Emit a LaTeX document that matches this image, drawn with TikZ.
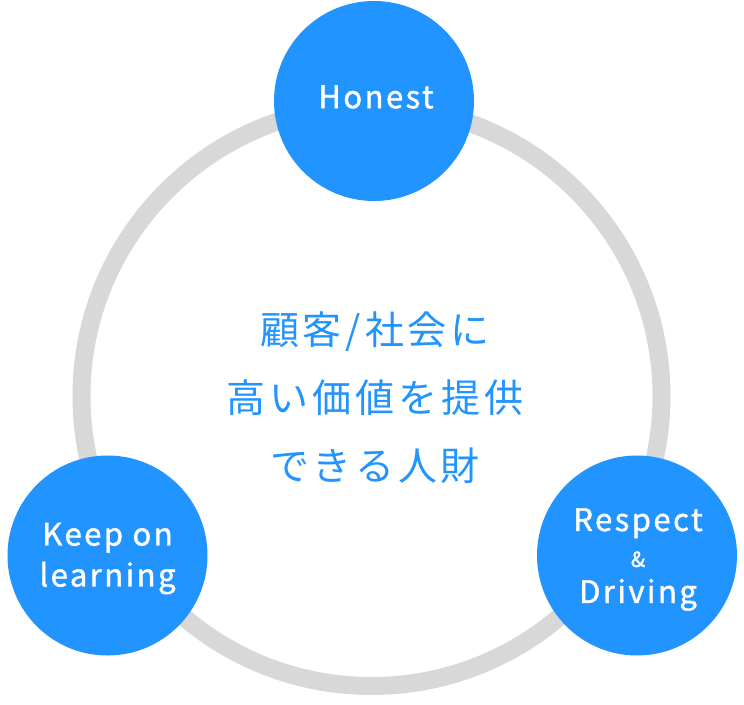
\documentclass[tikz,border=0pt]{standalone}
\usepackage{fontspec}
\setmainfont{Noto Sans CJK JP}
\usetikzlibrary{positioning}

\definecolor{valueblue}{RGB}{34,148,255}
\definecolor{ringgray}{RGB}{216,216,216}

\begin{document}
\begin{tikzpicture}[x=1pt,y=-1pt]

\tikzset{value/.style={circle, fill=valueblue, minimum size=200pt, inner sep=0pt},
  valuetext/.style={text=white, align=center, inner sep=0pt,
    font=\fontsize{31}{41}\selectfont\addfontfeature{LetterSpace=8,FakeBold=1.3}},
  core/.style={text=valueblue, align=center,
    font=\fontsize{39}{68}\selectfont\addfontfeature{LetterSpace=10}}}

\useasboundingbox (0,0) rectangle (744,704);

\node[circle, draw=ringgray, line width=18pt, minimum size=580pt] (ring) at (371.5,396) {};

\node[value] (honest) at (374,101) {};
\node[value] (learning) at (107.5,555.5) {};
\node[value] (respect) at (637,555.5) {};

\node[valuetext] (honesttext) at ([shift={(2,-4)}]honest.center) {Honest};
\node[valuetext] (learningtext) at ([shift={(0,3)}]learning.center) {Keep on\\learning};
\node[valuetext, font=\fontsize{31}{36}\selectfont\addfontfeature{LetterSpace=8,FakeBold=1.3}]
  (respecttext) at ([shift={(1,4)}]respect.center)
  {Respect\\{\fontsize{21}{36}\selectfont\&}\\Driving};

\node[core] (talent) at (375,398) {顧客/社会に\\高い価値を提供\\できる人財};

\end{tikzpicture}
\end{document}
